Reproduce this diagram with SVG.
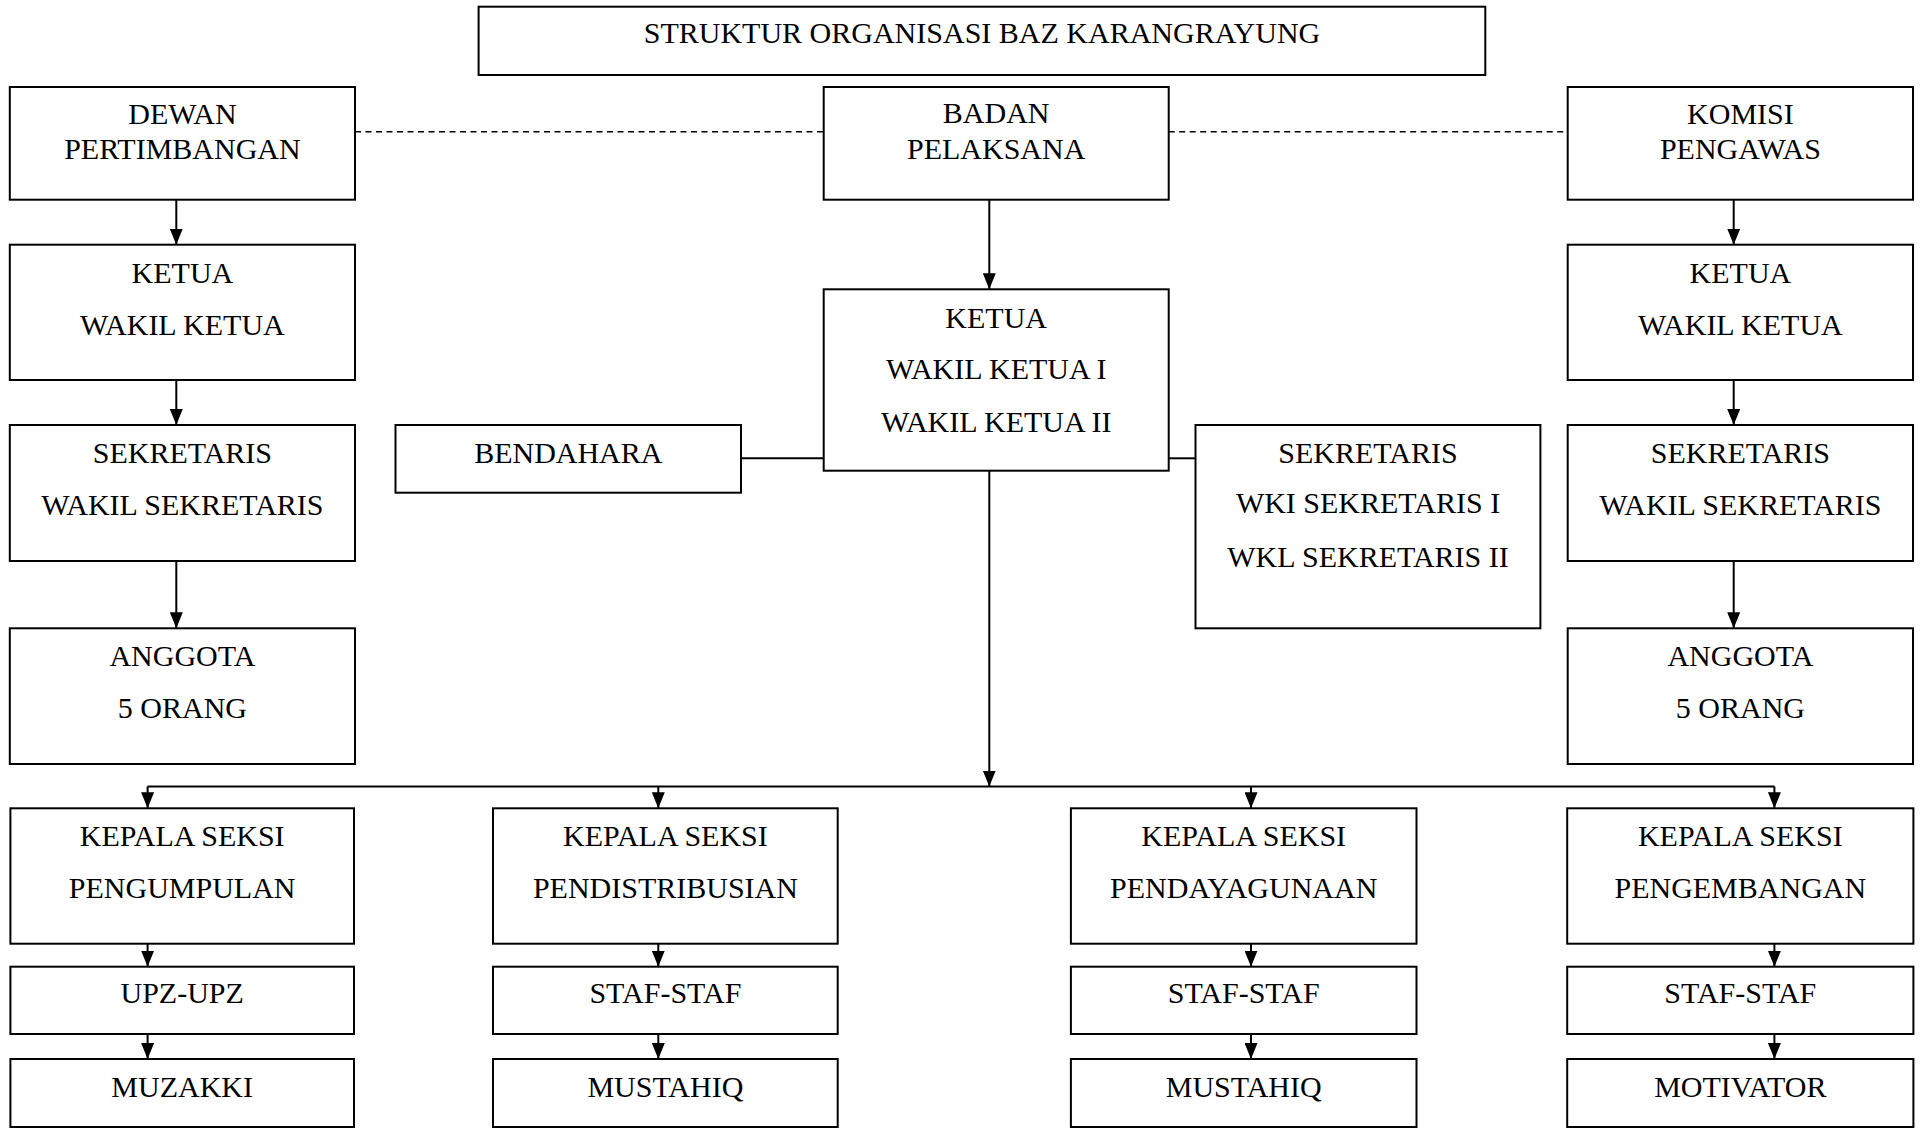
<svg xmlns="http://www.w3.org/2000/svg" width="1921" height="1128" viewBox="0 0 1921 1128">
<style>
.box{fill:#fff;stroke:#000;stroke-width:2}
.t{font-family:"Liberation Serif","Times New Roman",serif;font-size:30px;fill:#000;text-anchor:middle}
.c{fill:none;stroke:#000;stroke-width:2}
.d{fill:none;stroke:#000;stroke-width:1.6;stroke-dasharray:6 4.5}
</style>
<defs>
<marker id="ar" viewBox="0 0 16 13" refX="16" refY="6.5" markerWidth="16" markerHeight="13" markerUnits="userSpaceOnUse" orient="auto">
<path d="M0,0 L16,6.5 L0,13 z" fill="#000"/>
</marker>
</defs>
<rect width="1921" height="1128" fill="#fff"/>

<g id="connectors">
<line class="d" x1="355" y1="131.7" x2="823.7" y2="131.7"/>
<line class="d" x1="1168.7" y1="131.7" x2="1567.7" y2="131.7"/>
<line class="c" x1="176.3" y1="199.7" x2="176.3" y2="244.7" marker-end="url(#ar)"/>
<line class="c" x1="176.3" y1="380" x2="176.3" y2="425" marker-end="url(#ar)"/>
<line class="c" x1="176.3" y1="561" x2="176.3" y2="628.3" marker-end="url(#ar)"/>
<line class="c" x1="1733.7" y1="199.7" x2="1733.7" y2="244.7" marker-end="url(#ar)"/>
<line class="c" x1="1733.7" y1="380" x2="1733.7" y2="425" marker-end="url(#ar)"/>
<line class="c" x1="1733.7" y1="561" x2="1733.7" y2="628.3" marker-end="url(#ar)"/>
<line class="c" x1="989.3" y1="199.7" x2="989.3" y2="289.3" marker-end="url(#ar)"/>
<line class="c" x1="741" y1="458.3" x2="823.7" y2="458.3"/>
<line class="c" x1="1168.7" y1="458.3" x2="1195.5" y2="458.3"/>
<line class="c" x1="989.3" y1="470.7" x2="989.3" y2="786.5" marker-end="url(#ar)"/>
<line class="c" x1="147.6" y1="786.5" x2="1774.4" y2="786.5"/>
<line class="c" x1="147.6" y1="786.5" x2="147.6" y2="808.3" marker-end="url(#ar)"/>
<line class="c" x1="658.3" y1="786.5" x2="658.3" y2="808.3" marker-end="url(#ar)"/>
<line class="c" x1="1251" y1="786.5" x2="1251" y2="808.3" marker-end="url(#ar)"/>
<line class="c" x1="1774.4" y1="786.5" x2="1774.4" y2="808.3" marker-end="url(#ar)"/>
<line class="c" x1="147.6" y1="943.7" x2="147.6" y2="966.7" marker-end="url(#ar)"/>
<line class="c" x1="147.6" y1="1034" x2="147.6" y2="1059" marker-end="url(#ar)"/>
<line class="c" x1="658.3" y1="943.7" x2="658.3" y2="966.7" marker-end="url(#ar)"/>
<line class="c" x1="658.3" y1="1034" x2="658.3" y2="1059" marker-end="url(#ar)"/>
<line class="c" x1="1251" y1="943.7" x2="1251" y2="966.7" marker-end="url(#ar)"/>
<line class="c" x1="1251" y1="1034" x2="1251" y2="1059" marker-end="url(#ar)"/>
<line class="c" x1="1774.4" y1="943.7" x2="1774.4" y2="966.7" marker-end="url(#ar)"/>
<line class="c" x1="1774.4" y1="1034" x2="1774.4" y2="1059" marker-end="url(#ar)"/>
</g>

<g id="title"><rect class="box" x="478.6" y="6.7" width="1006.7" height="68.3"/><text class="t" x="982" y="43.3">STRUKTUR ORGANISASI BAZ KARANGRAYUNG</text></g>

<g id="dewan"><rect class="box" x="9.8" y="87" width="345.2" height="112.7"/><text class="t" x="182.4" y="124">DEWAN</text><text class="t" x="182.4" y="158.7">PERTIMBANGAN</text></g>
<g id="dewan-ketua"><rect class="box" x="9.8" y="244.7" width="345.2" height="135.3"/><text class="t" x="182.4" y="282.7">KETUA</text><text class="t" x="182.4" y="335">WAKIL KETUA</text></g>
<g id="dewan-sekretaris"><rect class="box" x="9.8" y="425" width="345.2" height="136"/><text class="t" x="182.4" y="463.3">SEKRETARIS</text><text class="t" x="182.4" y="515">WAKIL SEKRETARIS</text></g>
<g id="dewan-anggota"><rect class="box" x="9.8" y="628.3" width="345.2" height="135.7"/><text class="t" x="182.4" y="665.7">ANGGOTA</text><text class="t" x="182.4" y="718.3">5 ORANG</text></g>

<g id="badan"><rect class="box" x="823.7" y="87" width="345" height="112.7"/><text class="t" x="996.2" y="123.3">BADAN</text><text class="t" x="996.2" y="159.3">PELAKSANA</text></g>
<g id="badan-ketua"><rect class="box" x="823.7" y="289.3" width="345" height="181.4"/><text class="t" x="996.2" y="327.7">KETUA</text><text class="t" x="996.2" y="379.3">WAKIL KETUA I</text><text class="t" x="996.2" y="431.7">WAKIL KETUA II</text></g>
<g id="bendahara"><rect class="box" x="395.5" y="425" width="345.5" height="67.7"/><text class="t" x="568.3" y="463.3">BENDAHARA</text></g>
<g id="badan-sekretaris"><rect class="box" x="1195.5" y="425" width="344.9" height="203.3"/><text class="t" x="1368" y="463.3">SEKRETARIS</text><text class="t" x="1368" y="513.3">WKI SEKRETARIS I</text><text class="t" x="1368" y="566.7">WKL SEKRETARIS II</text></g>

<g id="komisi"><rect class="box" x="1567.7" y="87" width="345.3" height="112.7"/><text class="t" x="1740.4" y="124">KOMISI</text><text class="t" x="1740.4" y="158.7">PENGAWAS</text></g>
<g id="komisi-ketua"><rect class="box" x="1567.7" y="244.7" width="345.3" height="135.3"/><text class="t" x="1740.4" y="282.7">KETUA</text><text class="t" x="1740.4" y="335">WAKIL KETUA</text></g>
<g id="komisi-sekretaris"><rect class="box" x="1567.7" y="425" width="345.3" height="136"/><text class="t" x="1740.4" y="463.3">SEKRETARIS</text><text class="t" x="1740.4" y="515">WAKIL SEKRETARIS</text></g>
<g id="komisi-anggota"><rect class="box" x="1567.7" y="628.3" width="345.3" height="135.7"/><text class="t" x="1740.4" y="665.7">ANGGOTA</text><text class="t" x="1740.4" y="718.3">5 ORANG</text></g>

<g id="seksi-pengumpulan"><rect class="box" x="10.4" y="808.3" width="343.6" height="135.4"/><text class="t" x="182.2" y="846">KEPALA SEKSI</text><text class="t" x="182.2" y="898.3">PENGUMPULAN</text></g>
<g id="upz"><rect class="box" x="10.4" y="966.7" width="343.6" height="67.3"/><text class="t" x="182.2" y="1003.3">UPZ-UPZ</text></g>
<g id="muzakki"><rect class="box" x="10.4" y="1059" width="343.6" height="68"/><text class="t" x="182.2" y="1096.7">MUZAKKI</text></g>

<g id="seksi-pendistribusian"><rect class="box" x="493" y="808.3" width="344.7" height="135.4"/><text class="t" x="665.4" y="846">KEPALA SEKSI</text><text class="t" x="665.4" y="898.3">PENDISTRIBUSIAN</text></g>
<g id="staf-2"><rect class="box" x="493" y="966.7" width="344.7" height="67.3"/><text class="t" x="665.4" y="1003.3">STAF-STAF</text></g>
<g id="mustahiq-2"><rect class="box" x="493" y="1059" width="344.7" height="68"/><text class="t" x="665.4" y="1096.7">MUSTAHIQ</text></g>

<g id="seksi-pendayagunaan"><rect class="box" x="1070.9" y="808.3" width="345.6" height="135.4"/><text class="t" x="1243.7" y="846">KEPALA SEKSI</text><text class="t" x="1243.7" y="898.3">PENDAYAGUNAAN</text></g>
<g id="staf-3"><rect class="box" x="1070.9" y="966.7" width="345.6" height="67.3"/><text class="t" x="1243.7" y="1003.3">STAF-STAF</text></g>
<g id="mustahiq-3"><rect class="box" x="1070.9" y="1059" width="345.6" height="68"/><text class="t" x="1243.7" y="1096.7">MUSTAHIQ</text></g>

<g id="seksi-pengembangan"><rect class="box" x="1567.2" y="808.3" width="346.2" height="135.4"/><text class="t" x="1740.3" y="846">KEPALA SEKSI</text><text class="t" x="1740.3" y="898.3">PENGEMBANGAN</text></g>
<g id="staf-4"><rect class="box" x="1567.2" y="966.7" width="346.2" height="67.3"/><text class="t" x="1740.3" y="1003.3">STAF-STAF</text></g>
<g id="motivator"><rect class="box" x="1567.2" y="1059" width="346.2" height="68"/><text class="t" x="1740.3" y="1096.7">MOTIVATOR</text></g>
</svg>
